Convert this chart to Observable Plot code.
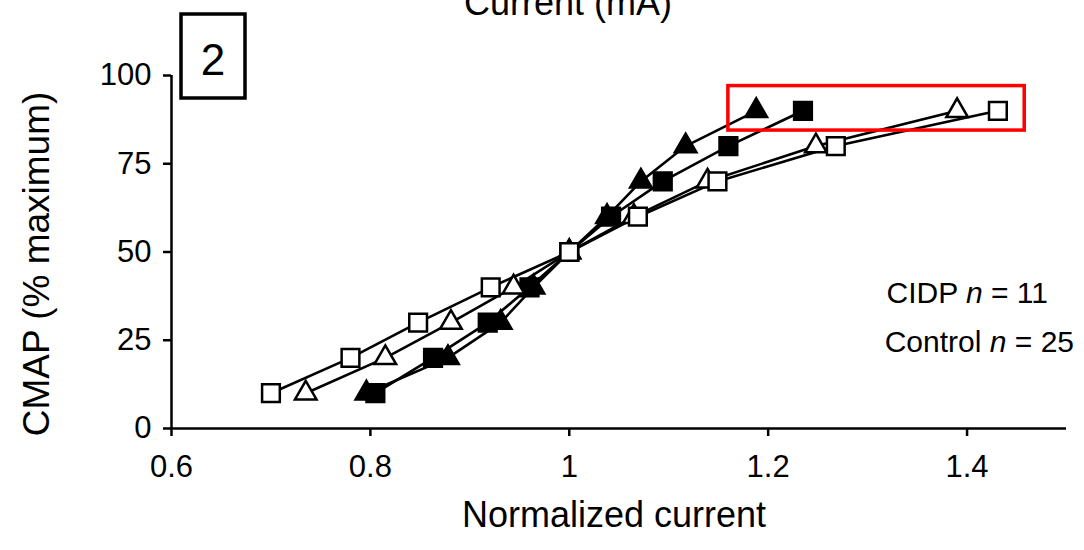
<!DOCTYPE html>
<html>
<head>
<meta charset="utf-8">
<script src="https://cdn.jsdelivr.net/npm/d3@7"></script>
<script src="https://cdn.jsdelivr.net/npm/@observablehq/plot@0.6"></script>
<style>
  body { margin: 0; background: #fff; }
  #chart { width: 1084px; height: 550px; }
  svg text { font-family: "Liberation Sans", Arial, sans-serif; }
</style>
</head>
<body>
<div id="chart"></div>
<script>
// CMAP amplitude levels (% of maximum) at which the normalized current was measured
const cmapLevels = [10, 20, 30, 40, 50, 60, 70, 80, 90];

// Normalized stimulus current needed to reach each CMAP level
const cidpTriangles    = [0.796, 0.878, 0.931, 0.964, 1.000, 1.038, 1.072, 1.117, 1.188];
const cidpSquares      = [0.805, 0.863, 0.918, 0.960, 1.000, 1.042, 1.094, 1.160, 1.235];
const controlTriangles = [0.735, 0.815, 0.881, 0.944, 1.000, 1.065, 1.139, 1.248, 1.390];
const controlSquares   = [0.700, 0.780, 0.848, 0.921, 1.000, 1.069, 1.149, 1.268, 1.431];

// Series, in drawing order (later ones sit on top)
const seriesNames  = ["CIDP triangles", "CIDP squares", "Control triangles", "Control squares"];
const seriesGroups = ["CIDP", "CIDP", "Control", "Control"];
const seriesShapes = ["triangle", "square", "triangle", "square"];
const seriesValues = [cidpTriangles, cidpSquares, controlTriangles, controlSquares];

// Axis ticks
const xTicks = [0.6, 0.8, 1.0, 1.2, 1.4];
const xTickLabels = ["0.6", "0.8", "1", "1.2", "1.4"];
const yTicks = [0, 25, 50, 75, 100];

// Group sizes shown in the legend
const groupLabels = ["CIDP", "Control"];
const groupSizes = [11, 25];

// Tidy rows built from the arrays above
const rows = [];
seriesNames.forEach((name, s) => {
  seriesValues[s].forEach((v, i) => {
    rows.push({series: name, group: seriesGroups[s], shape: seriesShapes[s], current: v, cmap: cmapLevels[i]});
  });
});

// Region of the plateau points that is outlined in red
const highlight = {x1: 1.16, x2: 1.458, y1: 84.4, y2: 97.0};

const font = '"Liberation Sans", Arial, sans-serif';
const dotMarks = seriesNames.map((name, s) => Plot.dot(rows.filter(d => d.series === name), {
  x: "current",
  y: "cmap",
  symbol: seriesShapes[s],
  r: seriesShapes[s] === "square" ? 10 : 8,
  fill: seriesGroups[s] === "CIDP" ? "black" : "white",
  stroke: "black",
  strokeWidth: 2.5
}));

const plot = Plot.plot({
  width: 1084,
  height: 550,
  marginLeft: 171,
  marginRight: 18,
  marginTop: 75,
  marginBottom: 122,
  x: {domain: [0.6, 1.5]},
  y: {domain: [0, 100]},
  style: {fontFamily: font, background: "white", color: "black", overflow: "visible"},
  marks: [
    Plot.axisX({ticks: xTicks, tickFormat: (d, i) => xTickLabels[i], tickSize: 8, tickPadding: 18,
                fontSize: 31, strokeWidth: 2.5, label: null}),
    Plot.axisY({ticks: yTicks, tickSize: 8, tickPadding: 12, fontSize: 31, strokeWidth: 2.5, label: null}),
    Plot.ruleY([0], {strokeWidth: 2.5}),
    Plot.ruleX([0.6], {strokeWidth: 2.5}),
    Plot.line(rows, {x: "current", y: "cmap", z: "series", stroke: "black", strokeWidth: 2.6}),
    ...dotMarks,
    Plot.rect([highlight], {x1: "x1", x2: "x2", y1: "y1", y2: "y2", fill: "none", stroke: "#f00", strokeWidth: 3.5})
  ]
});

document.getElementById("chart").appendChild(plot);

// Annotations: titles, panel number and group sizes
const svg = d3.select(plot);

svg.append("text")
  .attr("x", 568).attr("y", 15)
  .attr("text-anchor", "middle")
  .attr("font-size", 36)
  .text("Current (mA)");

svg.append("text")
  .attr("transform", "translate(49,264) rotate(-90)")
  .attr("text-anchor", "middle")
  .attr("font-size", 37)
  .text("CMAP (% maximum)");

svg.append("text")
  .attr("x", 614).attr("y", 527)
  .attr("text-anchor", "middle")
  .attr("font-size", 36)
  .text("Normalized current");

svg.append("rect")
  .attr("x", 181).attr("y", 14).attr("width", 64).attr("height", 84)
  .attr("fill", "white").attr("stroke", "black").attr("stroke-width", 3.5);
svg.append("text")
  .attr("x", 213).attr("y", 75)
  .attr("text-anchor", "middle")
  .attr("font-size", 44)
  .text("2");

const legendPos = [[1048, 303], [1074, 352]];
groupLabels.forEach((g, i) => {
  const t = svg.append("text")
    .attr("x", legendPos[i][0]).attr("y", legendPos[i][1])
    .attr("text-anchor", "end")
    .attr("font-size", 30);
  t.append("tspan").text(g + " ");
  t.append("tspan").attr("font-style", "italic").text("n");
  t.append("tspan").text(" = " + groupSizes[i]);
});
</script>
</body>
</html>
